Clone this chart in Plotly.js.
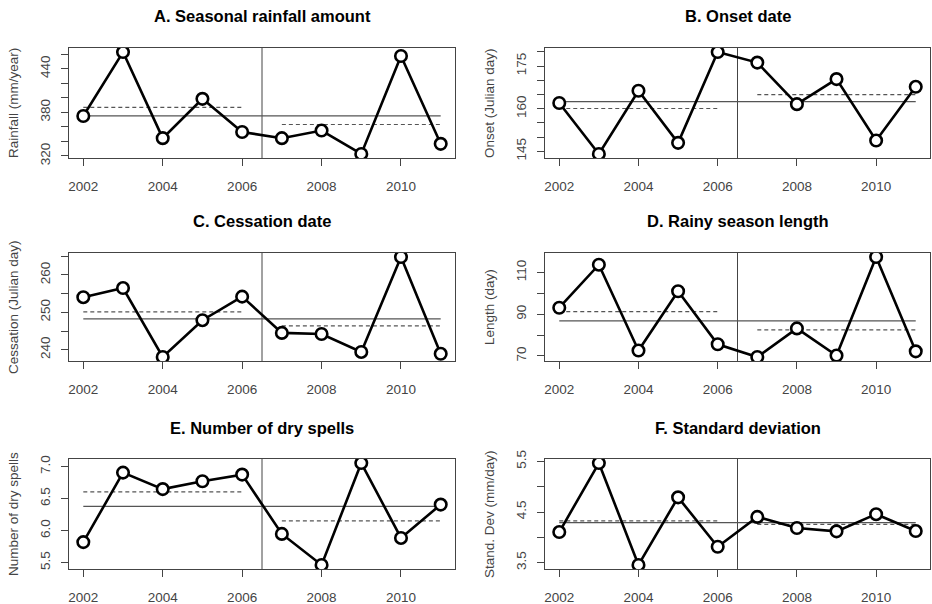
<!DOCTYPE html>
<html>
<head>
<meta charset="utf-8">
<script src="https://cdn.plot.ly/plotly-3.0.1.min.js"></script>
<style>html,body{margin:0;padding:0;background:#fff;}#chart{width:932px;height:604px;}</style>
</head>
<body>
<div id="chart"></div>
<script>
// ---- data ----
var years = [2002, 2003, 2004, 2005, 2006, 2007, 2008, 2009, 2010, 2011];
var xTickVals = [2002, 2004, 2006, 2008, 2010];
var breakYear = 2006.5;

var rainfall  = [375, 463, 344.5, 398.6, 353, 344.5, 355, 322.8, 457.6, 336.7];
var onset     = [162, 144.1, 166.3, 148, 179.9, 176.2, 161.6, 170.4, 148.8, 167.7];
var cessation = [254.05, 256.5, 238.05, 247.9, 254.2, 244.5, 244.2, 239.4, 264.8, 238.9];
var seasonLen = [93.1, 113.7, 72.6, 101, 75.6, 69.5, 83.2, 70.2, 117.4, 72.2];
var drySpells = [5.82, 6.905, 6.648, 6.77, 6.874, 5.948, 5.464, 7.054, 5.885, 6.406];
var stdDev    = [4.104, 5.467, 3.454, 4.79, 3.813, 4.403, 4.184, 4.118, 4.457, 4.124];

var titles = ["A. Seasonal rainfall amount", "B. Onset date", "C. Cessation date",
              "D. Rainy season length", "E. Number of dry spells", "F. Standard deviation"];
var yTitles = ["Rainfall (mm/year)", "Onset (Julian day)", "Cessation (Julian day)",
               "Length (day)", "Number of dry spells", "Stand. Dev (mm/day)"];

var yTickVals = [
  [320, 340, 360, 380, 400, 420, 440, 460],
  [145, 150, 155, 160, 165, 170, 175, 180],
  [240, 245, 250, 255, 260, 265],
  [70, 80, 90, 100, 110],
  [5.5, 6.0, 6.5, 7.0],
  [3.5, 4.0, 4.5, 5.0, 5.5]
];
var yTickText = [
  ["320", "", "", "380", "", "", "440", ""],
  ["145", "", "", "160", "", "", "175", ""],
  ["240", "", "250", "", "260", ""],
  ["70", "", "90", "", "110"],
  ["5.5", "6.0", "6.5", "7.0"],
  ["3.5", "", "4.5", "", "5.5"]
];
var series = [rainfall, onset, cessation, seasonLen, drySpells, stdDev];

// ---- layout geometry (pixels) ----
var W = 932, H = 604;
var cols = [[69, 455], [545, 930]];
var rows = [[48, 158], [253, 361], [459, 569]];
var titleY = [15.5, 221, 428];
var yTitleX = [13, 489];

function mean(a) { var s = 0; for (var i = 0; i < a.length; i++) s += a[i]; return s / a.length; }
function rRange(a) {
  var mn = Math.min.apply(null, a), mx = Math.max.apply(null, a), d = (mx - mn) * 0.04;
  return [mn - d, mx + d];
}

var fontFam = "Liberation Sans, Arial, Helvetica, sans-serif";
var grey = "#444";
var traces = [], shapes = [], annotations = [];
var layout = {
  width: W, height: H,
  margin: {l: 0, r: 0, t: 0, b: 0},
  paper_bgcolor: "#fff", plot_bgcolor: "#fff",
  showlegend: false,
  font: {family: fontFam, color: grey}
};

var xr = rRange(years);
for (var k = 0; k < 6; k++) {
  var c = k % 2, r = Math.floor(k / 2);
  var sfx = k === 0 ? "" : String(k + 1);
  var xa = "x" + sfx, ya = "y" + sfx;
  var data = series[k];
  var first = data.slice(0, 5), second = data.slice(5);
  var mAll = mean(data), m1 = mean(first), m2 = mean(second);

  layout["xaxis" + sfx] = {
    domain: [cols[c][0] / W, cols[c][1] / W],
    anchor: ya, range: xr,
    tickvals: xTickVals, ticktext: xTickVals.map(String),
    ticks: "outside", ticklen: 7, tickwidth: 1, tickcolor: grey,
    showline: true, mirror: true, linecolor: grey, linewidth: 1,
    showgrid: false, zeroline: false, ticklabelstandoff: 9,
    tickfont: {family: fontFam, size: 13.5, color: grey}
  };
  layout["yaxis" + sfx] = {
    domain: [1 - rows[r][1] / H, 1 - rows[r][0] / H],
    anchor: xa, range: rRange(data),
    tickvals: yTickVals[k], ticktext: yTickText[k],
    ticks: "outside", ticklen: 7, tickwidth: 1, tickcolor: grey,
    tickangle: -90,
    showline: true, mirror: true, linecolor: grey, linewidth: 1,
    showgrid: false, zeroline: false, ticklabelstandoff: 6,
    tickfont: {family: fontFam, size: 13.5, color: grey}
  };

  // overall mean (solid)
  traces.push({x: [years[0], years[9]], y: [mAll, mAll], xaxis: xa, yaxis: ya,
    mode: "lines", line: {color: "#555", width: 1.2}, hoverinfo: "skip"});
  // period means (dashed)
  traces.push({x: [years[0], years[4]], y: [m1, m1], xaxis: xa, yaxis: ya,
    mode: "lines", line: {color: "#555", width: 1.2, dash: "4px,3px"}, hoverinfo: "skip"});
  traces.push({x: [years[5], years[9]], y: [m2, m2], xaxis: xa, yaxis: ya,
    mode: "lines", line: {color: "#555", width: 1.2, dash: "4px,3px"}, hoverinfo: "skip"});
  // series
  traces.push({x: years, y: data, xaxis: xa, yaxis: ya, mode: "lines+markers",
    line: {color: "#000", width: 2.6},
    marker: {symbol: "circle", size: 11.5, color: "#fff", line: {color: "#000", width: 2.6}},
    cliponaxis: true});

  shapes.push({type: "line", xref: xa, yref: ya + " domain", x0: breakYear, x1: breakYear,
    y0: 0, y1: 1, line: {color: grey, width: 1}, layer: "below"});

  annotations.push({text: "<b>" + titles[k] + "</b>", xref: "paper", yref: "paper",
    x: (cols[c][0] + cols[c][1]) / 2 / W, y: 1 - titleY[r] / H,
    xanchor: "center", yanchor: "middle", showarrow: false,
    font: {family: fontFam, size: 16.5, color: "#000"}});
  annotations.push({text: yTitles[k], xref: "paper", yref: "paper",
    x: yTitleX[c] / W, y: 1 - (rows[r][0] + rows[r][1]) / 2 / H,
    xanchor: "center", yanchor: "middle", textangle: -90, showarrow: false,
    font: {family: fontFam, size: 13.5, color: grey}});
}
layout.shapes = shapes;
layout.annotations = annotations;

Plotly.newPlot("chart", traces, layout, {displayModeBar: false, staticPlot: true});
</script>
</body>
</html>
